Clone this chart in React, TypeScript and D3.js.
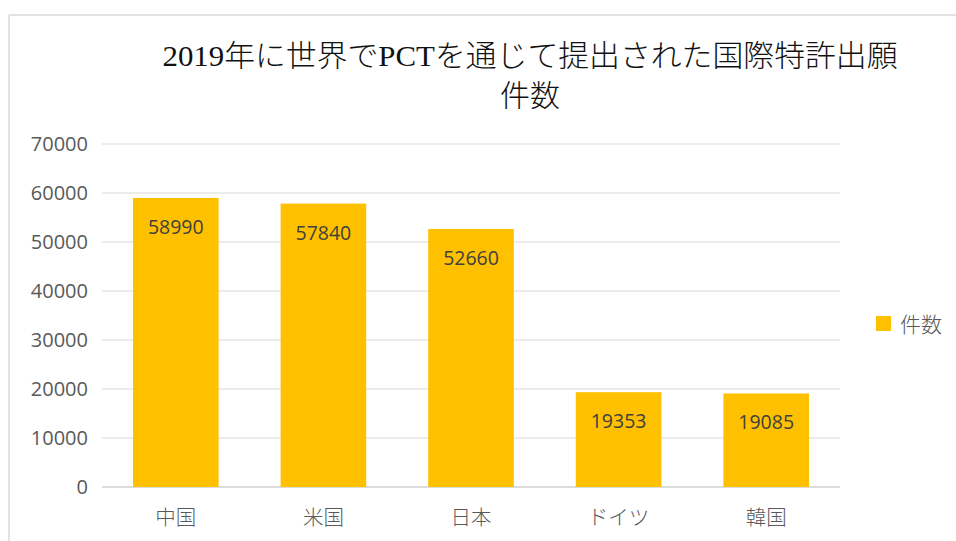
import React from "react";
import * as d3 from "d3";

const categories = ["中国", "米国", "日本", "ドイツ", "韓国"];
const values = [58990, 57840, 52660, 19353, 19085];
const yTicks = [0, 10000, 20000, 30000, 40000, 50000, 60000, 70000];
const seriesName = "件数";
const titleLines = ["2019年に世界でPCTを通じて提出された国際特許出願", "件数"];

export default function App() {
  const W = 956, H = 541;
  const left = 102, right = 840, top = 144, bottom = 487;
  const x = d3.scaleBand<string>().domain(categories).range([left, right]).paddingInner(0.42).paddingOuter(0.21);
  const y = d3.scaleLinear().domain([0, 70000]).range([bottom, top]);
  const cjk = "'Noto Sans CJK JP', 'Noto Sans', sans-serif";
  const num = "'Open Sans', 'Noto Sans', sans-serif";
  return (
    <svg width={W} height={H} style={{ position: "absolute", left: 0, top: 0 }}>
      <rect x={0} y={0} width={W} height={H} fill="#fff" />
      <line x1={9} y1={15} x2={W} y2={15} stroke="#d9d9d9" strokeWidth={1.5} />
      <line x1={9} y1={15} x2={9} y2={H} stroke="#d9d9d9" strokeWidth={1.5} />
      <text x={530} y={66} textAnchor="middle" fontSize={30} textLength={735} lengthAdjust="spacingAndGlyphs"
        fontFamily={"'Liberation Serif', 'Noto Sans CJK JP', serif"} fill="#111" fontWeight={300}>{titleLines[0]}</text>
      <text x={530} y={106} textAnchor="middle" fontSize={30}
        fontFamily={"'Liberation Serif', 'Noto Sans CJK JP', serif"} fill="#111" fontWeight={300}>{titleLines[1]}</text>
      {yTicks.map((t) => (
        <g key={t}>
          <line x1={left} x2={right} y1={y(t)} y2={y(t)} stroke={t === 0 ? "#d0d0d0" : "#d9d9d9"} strokeWidth={t === 0 ? 1.5 : 1} />
          <text x={88} y={y(t) + 7} textAnchor="end" fontSize={20} fontFamily={num} fill="#595959">{t}</text>
        </g>
      ))}
      {categories.map((c, i) => (
        <g key={c}>
          <rect x={x(c)} y={y(values[i])} width={x.bandwidth()} height={bottom - y(values[i])} fill="#FFC000" />
          <text x={x(c)! + x.bandwidth() / 2} y={y(values[i]) + 36} textAnchor="middle" fontSize={19.5}
            fontFamily={num} fill="#404040">{values[i]}</text>
          <text x={x(c)! + x.bandwidth() / 2} y={525} textAnchor="middle" fontSize={20.5}
            fontFamily={cjk} fill="#595959" fontWeight={300}>{c}</text>
        </g>
      ))}
      <rect x={876} y={316} width={15} height={15} fill="#FFC000" />
      <text x={900} y={332} fontSize={21} fontFamily={cjk} fill="#595959" fontWeight={300}>{seriesName}</text>
    </svg>
  );
}
